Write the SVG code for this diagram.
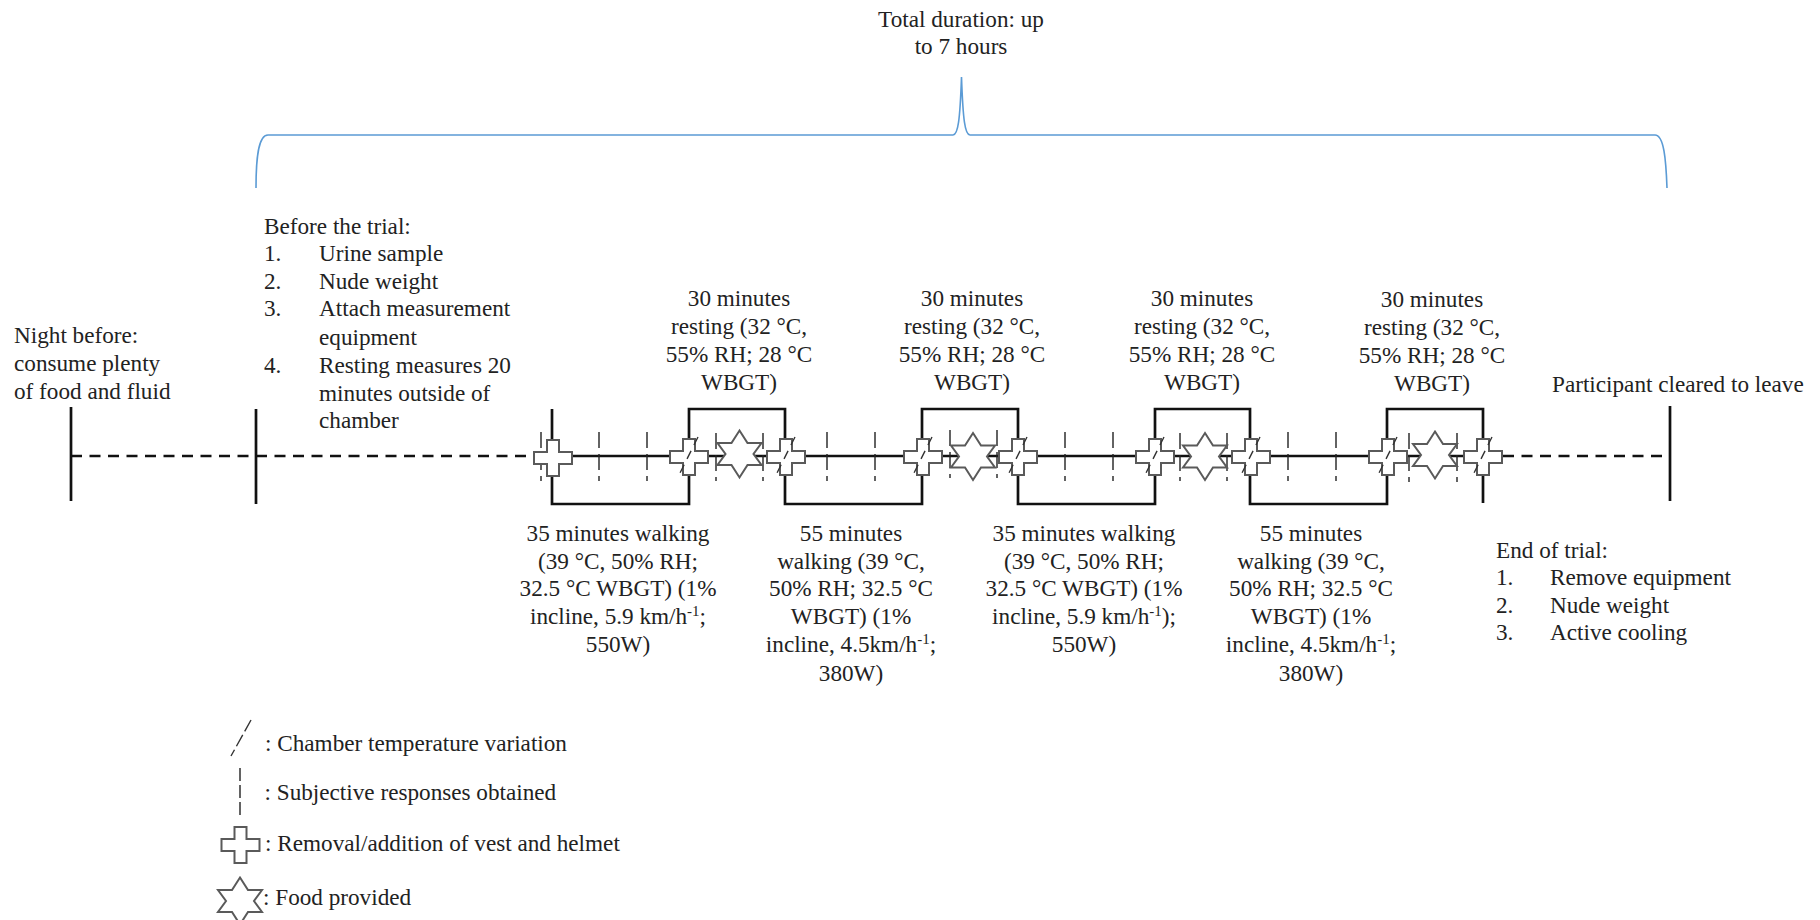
<svg xmlns="http://www.w3.org/2000/svg" width="1820" height="920" viewBox="0 0 1820 920">
<style>
text{font-family:"Liberation Serif","Times New Roman",serif;font-size:23.2px;fill:#222}
.m{text-anchor:middle}
.th{fill:none;stroke:#111;stroke-width:2.7}
.da{fill:none;stroke:#111;stroke-width:2.7;stroke-dasharray:11 7.5}
.tk{fill:none;stroke:#222;stroke-width:1.4;stroke-dasharray:16 6}
.sh{fill:#fff;stroke:#5a5a5a;stroke-width:2}
.br{fill:none;stroke:#5b9bd5;stroke-width:1.6}
.sl{fill:none;stroke:#333;stroke-width:1.4;stroke-dasharray:9 6.5}
.ls{fill:none;stroke:#333;stroke-width:1.4;stroke-dasharray:13 4}
.lt{fill:none;stroke:#222;stroke-width:1.4;stroke-dasharray:13 4}
</style>
<defs>
<polygon id="cross" class="sh" points="-6,-18 6,-18 6,-6 19,-6 19,6 6,6 6,18 -6,18 -6,6 -19,6 -19,-6 -6,-6"/>
<polygon id="star" class="sh" points="0,-23.5 8,-11 22,-11 14,0 22,11 8,11 0,23.5 -8,11 -22,11 -14,0 -22,-11 -8,-11"/>
<line id="slash" class="sl" x1="9" y1="-19" x2="-9" y2="17"/>
</defs>
<g id="connectors">
<path class="br" d="M256,188 C256,160 258,135 268,135 H953 C958,135 960,120 961.500,77 C963,120 965,135 970,135 H1655 C1664,135 1666,160 1667,188"/>
<path class="da" d="M71,456 H534"/>
<path class="da" d="M1503,456 H1671"/>
<path class="th" d="M534,456 H1503"/>
<path class="th" d="M71,407 V501"/>
<path class="th" d="M256,409 V504"/>
<path class="th" d="M1670,406 V501"/>
<path class="th" d="M552,409 V504 H689 V409 H785 V504 H922 V409 H1018 V504 H1155 V409 H1250 V504 H1387 V409 H1483 V503"/>
<path class="tk" d="M541,432V481M599,432V481M647,432V481M716,433V481M763,433V481M827,432V481M875,432V481M950,430V478M997,430V478M1065,432V481M1113,432V481M1180,433V481M1227,433V481M1288,432V481M1336,432V481M1409,433V482M1457,433V482"/>
</g>
<g id="n-start-cross"><use href="#cross" x="553" y="458"/></g>
<g id="n-c1"><use href="#cross" x="689" y="457"/><use href="#slash" x="689" y="456"/></g>
<g id="n-s1"><use href="#star" x="739.500" y="454"/></g>
<g id="n-c2"><use href="#cross" x="786" y="457"/><use href="#slash" x="786" y="456"/></g>
<g id="n-c3"><use href="#cross" x="923" y="457"/><use href="#slash" x="923" y="456"/></g>
<g id="n-s2"><use href="#star" x="973" y="456.500"/></g>
<g id="n-c4"><use href="#cross" x="1018" y="457"/><use href="#slash" x="1018" y="456"/></g>
<g id="n-c5"><use href="#cross" x="1155" y="457"/><use href="#slash" x="1155" y="456"/></g>
<g id="n-s3"><use href="#star" x="1205" y="456.500"/></g>
<g id="n-c6"><use href="#cross" x="1251" y="457"/><use href="#slash" x="1251" y="456"/></g>
<g id="n-c7"><use href="#cross" x="1388" y="457"/><use href="#slash" x="1388" y="456"/></g>
<g id="n-s4"><use href="#star" x="1435" y="455"/></g>
<g id="n-c8"><use href="#cross" x="1483" y="457"/><use href="#slash" x="1483" y="456"/></g>

<g id="t-total"><text class="m" x="961" y="27">Total duration: up</text><text class="m" x="961" y="54">to 7 hours</text></g>
<g id="t-night"><text x="14" y="343">Night before:</text><text x="14" y="371">consume plenty</text><text x="14" y="399">of food and fluid</text></g>
<g id="t-before">
<text x="264" y="234">Before the trial:</text>
<text x="264" y="261">1.</text><text x="319" y="261">Urine sample</text>
<text x="264" y="289">2.</text><text x="319" y="289">Nude weight</text>
<text x="264" y="316">3.</text><text x="319" y="316">Attach measurement</text>
<text x="319" y="345">equipment</text>
<text x="264" y="373">4.</text><text x="319" y="373">Resting measures 20</text>
<text x="319" y="401">minutes outside of</text>
<text x="319" y="428">chamber</text>
</g>
<g id="t-r1"><text class="m" x="739" y="306">30 minutes</text><text class="m" x="739" y="334">resting (32 °C,</text><text class="m" x="739" y="362">55% RH; 28 °C</text><text class="m" x="739" y="390">WBGT)</text></g>
<g id="t-r2"><text class="m" x="972" y="306">30 minutes</text><text class="m" x="972" y="334">resting (32 °C,</text><text class="m" x="972" y="362">55% RH; 28 °C</text><text class="m" x="972" y="390">WBGT)</text></g>
<g id="t-r3"><text class="m" x="1202" y="306">30 minutes</text><text class="m" x="1202" y="334">resting (32 °C,</text><text class="m" x="1202" y="362">55% RH; 28 °C</text><text class="m" x="1202" y="390">WBGT)</text></g>
<g id="t-r4"><text class="m" x="1432" y="307">30 minutes</text><text class="m" x="1432" y="335">resting (32 °C,</text><text class="m" x="1432" y="363">55% RH; 28 °C</text><text class="m" x="1432" y="391">WBGT)</text></g>
<g id="t-leave"><text x="1552" y="392">Participant cleared to leave</text></g>
<g id="t-w1"><text class="m" x="618" y="541">35 minutes walking</text><text class="m" x="618" y="569">(39 °C, 50% RH;</text><text class="m" x="618" y="596">32.5 °C WBGT) (1%</text><text class="m" x="618" y="624">incline, 5.9 km/h<tspan font-size="15" dy="-8">-1</tspan><tspan dy="8">;</tspan></text><text class="m" x="618" y="652">550W)</text></g>
<g id="t-w2"><text class="m" x="851" y="541">55 minutes</text><text class="m" x="851" y="569">walking (39 °C,</text><text class="m" x="851" y="596">50% RH; 32.5 °C</text><text class="m" x="851" y="624">WBGT) (1%</text><text class="m" x="851" y="652">incline, 4.5km/h<tspan font-size="15" dy="-8">-1</tspan><tspan dy="8">;</tspan></text><text class="m" x="851" y="681">380W)</text></g>
<g id="t-w3"><text class="m" x="1084" y="541">35 minutes walking</text><text class="m" x="1084" y="569">(39 °C, 50% RH;</text><text class="m" x="1084" y="596">32.5 °C WBGT) (1%</text><text class="m" x="1084" y="624">incline, 5.9 km/h<tspan font-size="15" dy="-8">-1</tspan><tspan dy="8">);</tspan></text><text class="m" x="1084" y="652">550W)</text></g>
<g id="t-w4"><text class="m" x="1311" y="541">55 minutes</text><text class="m" x="1311" y="569">walking (39 °C,</text><text class="m" x="1311" y="596">50% RH; 32.5 °C</text><text class="m" x="1311" y="624">WBGT) (1%</text><text class="m" x="1311" y="652">incline, 4.5km/h<tspan font-size="15" dy="-8">-1</tspan><tspan dy="8">;</tspan></text><text class="m" x="1311" y="681">380W)</text></g>
<g id="t-end">
<text x="1496" y="558">End of trial:</text>
<text x="1496" y="585">1.</text><text x="1550" y="585">Remove equipment</text>
<text x="1496" y="613">2.</text><text x="1550" y="613">Nude weight</text>
<text x="1496" y="640">3.</text><text x="1550" y="640">Active cooling</text>
</g>
<g id="legend">
<line class="ls" x1="251" y1="720" x2="231" y2="756"/>
<text x="265" y="751">: Chamber temperature variation</text>
<line class="lt" x1="240" y1="768" x2="240" y2="818"/>
<text x="264.500" y="800">: Subjective responses obtained</text>
<use href="#cross" x="240.500" y="845"/>
<text x="265" y="851">: Removal/addition of vest and helmet</text>
<use href="#star" x="240" y="901"/>
<text x="263" y="905">: Food provided</text>
</g>
</svg>
